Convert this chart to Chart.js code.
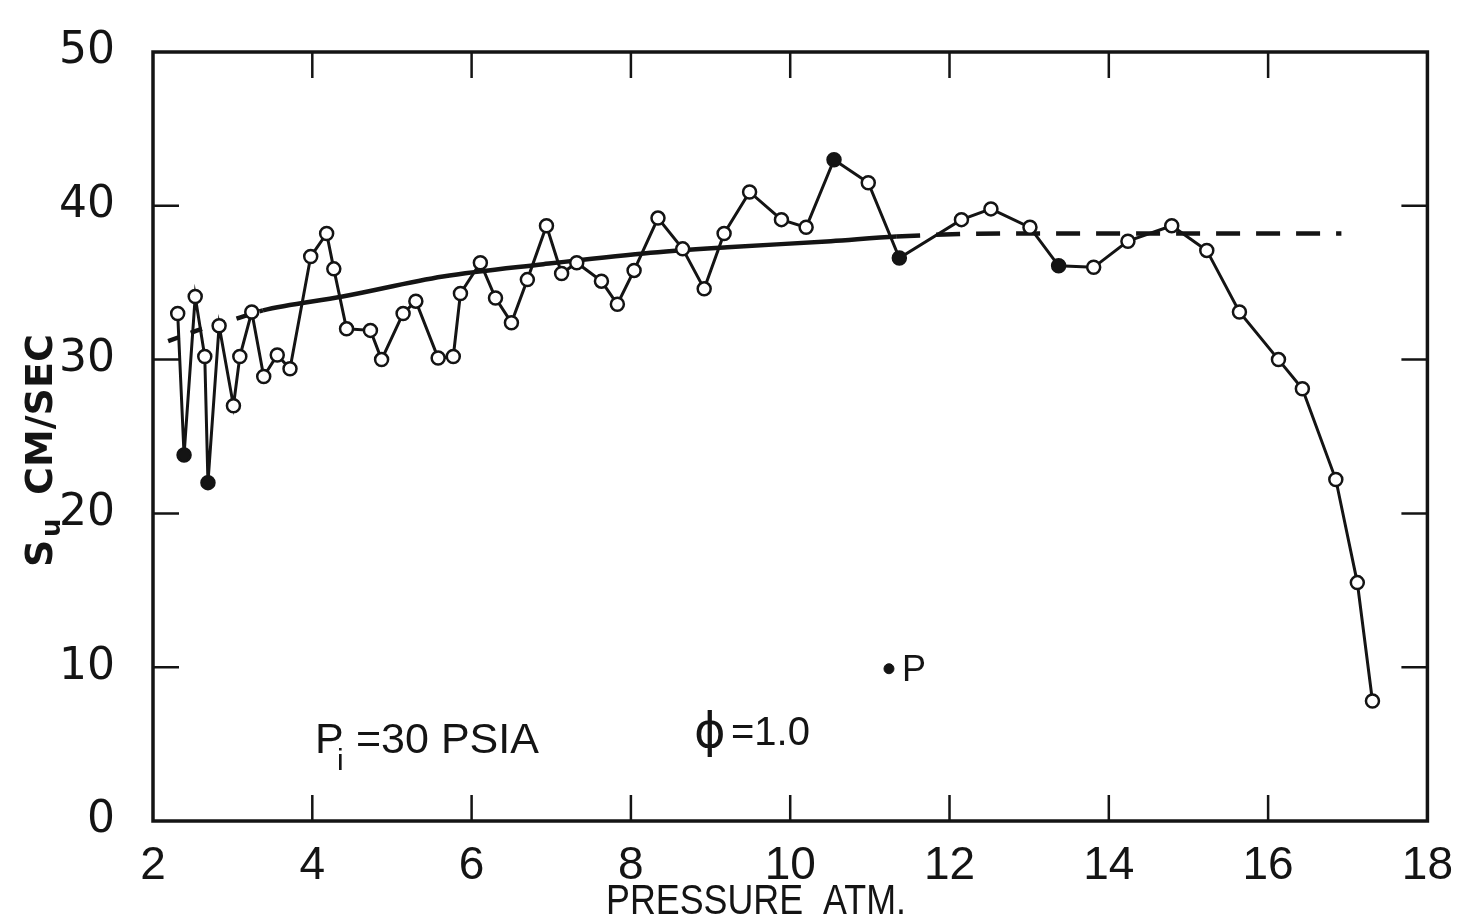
<!DOCTYPE html>
<html>
<head>
<meta charset="utf-8">
<title>Burning velocity vs pressure</title>
<script src="https://cdn.jsdelivr.net/npm/chart.js@4.4.1/dist/chart.umd.min.js"></script>
<style>
  html, body { margin: 0; padding: 0; background: #fff; }
  #wrap { width: 1467px; height: 920px; }
</style>
</head>
<body>
<div id="wrap"><canvas id="chart" width="1467" height="920"></canvas></div>
<script>
// measured burning velocity (atm, cm/sec)
const pressure = [2.31, 2.39, 2.53, 2.65, 2.69, 2.83, 3.01, 3.09, 3.24, 3.39, 3.56, 3.72, 3.98, 4.18, 4.27,
  4.43, 4.73, 4.87, 5.14, 5.30, 5.58, 5.77, 5.86, 6.11, 6.30, 6.50, 6.70, 6.94, 7.13, 7.32, 7.63, 7.83,
  8.04, 8.34, 8.65, 8.92, 9.17, 9.49, 9.89, 10.20, 10.55, 10.98, 11.37, 12.15, 12.52, 13.01, 13.37,
  13.81, 14.24, 14.79, 15.23, 15.64, 16.13, 16.43, 16.85, 17.12, 17.31]
const flameSpeed = [33.0, 23.8, 34.1, 30.2, 22.0, 32.2, 27.0, 30.2, 33.1, 28.9, 30.3, 29.4, 36.7, 38.2, 35.9,
  32.0, 31.9, 30.0, 33.0, 33.8, 30.1, 30.2, 34.3, 36.3, 34.0, 32.4, 35.2, 38.7, 35.6, 36.3, 35.1, 33.6,
  35.8, 39.2, 37.2, 34.6, 38.2, 40.9, 39.1, 38.6, 43.0, 41.5, 36.6, 39.1, 39.8, 38.6, 36.1,
  36.0, 37.7, 38.7, 37.1, 33.1, 30.0, 28.1, 22.2, 15.5, 7.8]
// points that print as solid dots
const filledPoints = [1, 4, 40, 42, 46]

// smooth curve drawn through the data, dashed at both ends
const fitX = [2.19, 2.62, 3.01, 3.38, 4.38, 5.64, 6.90, 8.16, 9.21, 10.51, 11.33, 12.69, 16.92]
const fitY = [31.2, 32.0, 32.6, 33.2, 34.1, 35.4, 36.2, 36.9, 37.3, 37.7, 38.0, 38.2, 38.2]
const fitSolidFrom = 3.38
const fitSolidTo = 11.33

// the lone point marked "P"
const pointPX = [11.24]
const pointPY = [9.9]

const xTicks = [2, 4, 6, 8, 10, 12, 14, 16, 18]
const yTicks = [0, 10, 20, 30, 40, 50]

const INK = '#141414'

const toXY = (xs, ys) => xs.map((x, i) => ({ x, y: ys[i] }))

// box round the plot with inward ticks on all four sides
const frameTicks = {
  id: 'frameTicks',
  beforeDatasetsDraw(chart) {
    const { ctx, chartArea: a, scales: { x, y } } = chart
    const len = 26
    ctx.save()
    ctx.strokeStyle = INK
    ctx.lineWidth = 3.5
    ctx.strokeRect(a.left, a.top, a.right - a.left, a.bottom - a.top)
    ctx.lineWidth = 2.5
    ctx.beginPath()
    xTicks.slice(1, -1).forEach(v => {
      const px = x.getPixelForValue(v)
      ctx.moveTo(px, a.bottom)
      ctx.lineTo(px, a.bottom - len)
      ctx.moveTo(px, a.top)
      ctx.lineTo(px, a.top + len)
    })
    yTicks.slice(1, -1).forEach(v => {
      const py = y.getPixelForValue(v)
      ctx.moveTo(a.left, py)
      ctx.lineTo(a.left + len, py)
      ctx.moveTo(a.right, py)
      ctx.lineTo(a.right - len, py)
    })
    ctx.stroke()
    ctx.restore()
  }
}

// axis titles and the notes inside the plot
const notes = {
  id: 'notes',
  afterDraw(chart) {
    const { ctx, scales: { x, y } } = chart
    ctx.save()
    ctx.fillStyle = INK
    ctx.textBaseline = 'alphabetic'
    ctx.textAlign = 'left'

    // S_u  CM/SEC, read bottom to top
    ctx.save()
    ctx.translate(38, 567)
    ctx.rotate(-Math.PI / 2)
    ctx.font = 'bold 38px "DejaVu Sans"'
    ctx.fillText('S', 0, 14)
    ctx.font = 'bold 26px "DejaVu Sans"'
    ctx.fillText('u', 30, 22)
    ctx.font = 'bold 38px "DejaVu Sans"'
    ctx.fillText('CM/SEC', 72, 14, 192)
    ctx.restore()

    ctx.font = '43px "Liberation Sans"'
    ctx.fillText('PRESSURE  ATM.', 606, 914, 300)

    ctx.font = '43px "Liberation Sans"'
    ctx.fillText('P', 315, 753)
    ctx.font = '30px "Liberation Sans"'
    ctx.fillText('i', 337, 770)
    ctx.font = '43px "Liberation Sans"'
    ctx.fillText('=30 PSIA', 356, 753, 194)

    ctx.font = '48px "DejaVu Sans"'
    ctx.fillText('\u03D5', 694, 747)
    ctx.font = '40px "Liberation Sans"'
    ctx.fillText('=1.0', 731, 745, 84)

    const px = x.getPixelForValue(pointPX[0])
    const py = y.getPixelForValue(pointPY[0])
    ctx.font = '36px "Liberation Sans"'
    ctx.fillText('P', px + 13, py + 12)
    ctx.restore()
  }
}

new Chart(document.getElementById('chart'), {
  type: 'scatter',
  data: {
    datasets: [{
      label: 'Measured',
      data: toXY(pressure, flameSpeed),
      showLine: true,
      borderColor: INK,
      borderWidth: 3,
      pointRadius: 6.5,
      pointBorderWidth: 2.5,
      pointBorderColor: INK,
      pointBackgroundColor: flameSpeed.map((_, i) => filledPoints.includes(i) ? INK : '#fff'),
      order: 0,
    }, {
      label: 'Curve',
      data: toXY(fitX, fitY),
      showLine: true,
      borderColor: INK,
      borderWidth: 4.5,
      pointRadius: 0,
      cubicInterpolationMode: 'monotone',
      segment: {
        borderDash: c => {
          if (c.p0.parsed.x < fitSolidFrom) return [12, 12]
          if (c.p0.parsed.x >= fitSolidTo) return [24, 16]
          return undefined
        },
      },
      order: 1,
    }, {
      label: 'P',
      data: toXY(pointPX, pointPY),
      pointRadius: 5,
      pointBackgroundColor: INK,
      pointBorderColor: INK,
      order: 2,
    }]
  },
  options: {
    responsive: false,
    animation: false,
    layout: { padding: { left: 0, top: 28, right: 31, bottom: 0 } },
    plugins: {
      legend: { display: false },
      tooltip: { enabled: false },
    },
    scales: {
      x: {
        type: 'linear',
        min: 2,
        max: 18,
        afterBuildTicks: s => { s.ticks = xTicks.map(v => ({ value: v })) },
        afterFit: s => { s.height = 99 },
        grid: { display: false },
        border: { display: false },
        ticks: {
          color: INK,
          padding: 14,
          maxRotation: 0,
          autoSkip: false,
          font: { family: 'Liberation Sans', size: 46, lineHeight: 1 },
        },
      },
      y: {
        type: 'linear',
        min: 0,
        max: 50,
        afterBuildTicks: s => { s.ticks = yTicks.map(v => ({ value: v })) },
        afterFit: s => { s.width = 153 },
        grid: { display: false },
        border: { display: false },
        ticks: {
          color: INK,
          padding: 30,
          autoSkip: false,
          font: { family: 'DejaVu Sans', size: 44, lineHeight: 1 },
        },
      },
    },
  },
  plugins: [frameTicks, notes],
})
</script>
</body>
</html>
